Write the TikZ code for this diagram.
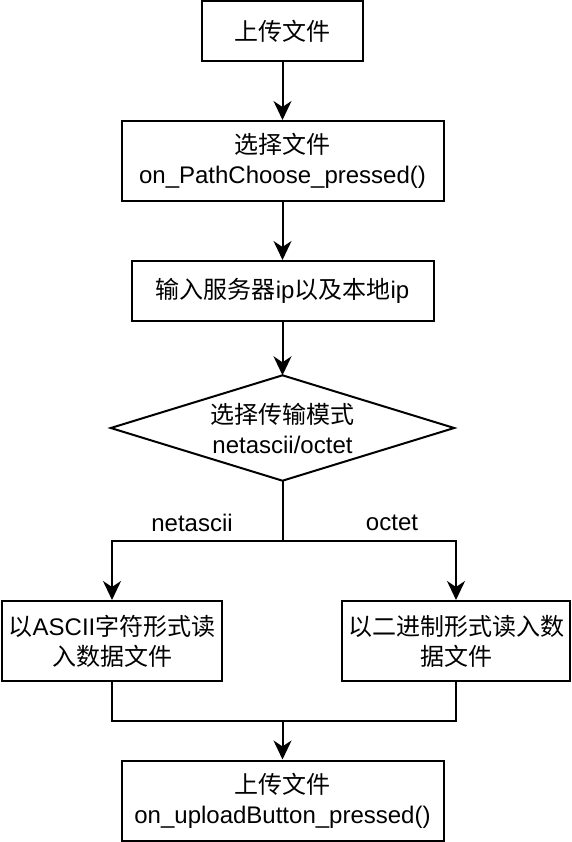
\documentclass[tikz,border=0pt]{standalone}
\usepackage{fontspec}
\setmainfont{Liberation Sans}
\newfontfamily\cjk{Noto Sans CJK SC}
\usetikzlibrary{arrows.meta}
\begin{document}
\begin{tikzpicture}[x=1pt,y=1pt,
  box/.style={draw,line width=2pt,minimum width=#1,inner sep=0pt,align=center,font=\fontsize{24}{30}\selectfont},
  lbl/.style={inner sep=0pt,font=\fontsize{24}{30}\selectfont},
  arr/.style={line width=2pt,-{Stealth[length=19pt,width=18pt,inset=6pt]}},
  ln/.style={line width=2pt}]
\useasboundingbox (0,0) rectangle (572,-842);
\node[box=161pt,minimum height=60pt] (b1) at (282.5,-31) {{\cjk 上传文件}};
\node[box=322pt,minimum height=80pt] (b2) at (282.5,-161) {{\cjk 选择文件}\\on\_PathChoose\_pressed()};
\node[box=302pt,minimum height=60pt] (b3) at (282.5,-291) {{\cjk 输入服务器}ip{\cjk 以及本地}ip};
\node[lbl,minimum width=343pt,minimum height=105pt,align=center] (d) at (282.5,-428) {{\cjk 选择传输模式}\\netascii/octet};
\draw[ln,line join=miter] (d.north) -- (d.east) -- (d.south) -- (d.west) -- cycle;
\node[box=220pt,minimum height=80pt] (L) at (112,-641) {{\cjk 以}ASCII{\cjk 字符形式读}\\{\cjk 入数据文件}};
\node[box=228pt,minimum height=80pt] (R) at (456,-641) {{\cjk 以二进制形式读入数}\\{\cjk 据文件}};
\node[box=322pt,minimum height=80pt] (B) at (282.5,-800.5) {{\cjk 上传文件}\\on\_uploadButton\_pressed()};
\node[lbl] (nl) at (192,-523) {netascii};
\node[lbl] (ol) at (392,-523) {octet};
\coordinate (split) at (282.5,-541);
\coordinate (merge) at (282.5,-721);
\draw[arr] (b1) -- (b2);
\draw[arr] (b2) -- (b3);
\draw[arr] (b3) -- (d.north);
\draw[ln] (d.south) -- (split);
\draw[arr] (split) -| (L.north);
\draw[arr] (split) -| (R.north);
\draw[ln] (L.south) |- (merge);
\draw[ln] (R.south) |- (merge);
\draw[arr] (merge) -- (B.north);
\end{tikzpicture}
\end{document}
